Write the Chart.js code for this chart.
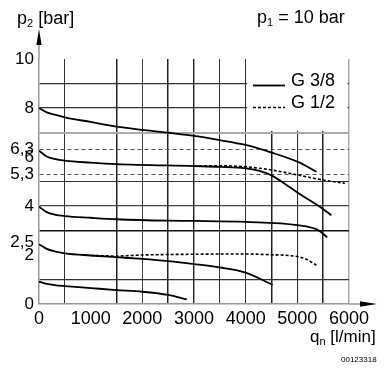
<!DOCTYPE html>
<html><head><meta charset="utf-8">
<script src="https://cdn.jsdelivr.net/npm/chart.js@4/dist/chart.umd.min.js"></script>
<style>
html,body{margin:0;padding:0;background:#fff;}
#wrap{position:relative;width:384px;height:371px;font-family:"Liberation Sans",Arial,sans-serif;color:#000;overflow:hidden;}
#c{position:absolute;left:0;top:0;width:384px;height:371px;}
.t{position:absolute;white-space:nowrap;font-size:18px;line-height:18px;}
.t sub{font-size:11px;vertical-align:-3px;line-height:0;}
.s{position:absolute;white-space:nowrap;font-size:8px;line-height:8px;}
</style></head><body>
<div id="wrap">
<canvas id="c" width="384" height="371"></canvas>
<div class="t" style="left:17px;top:9px">p<sub>2</sub> [bar]</div>
<div class="t" style="left:257px;top:8px">p<sub>1</sub> = 10 bar</div>
<div class="t" style="left:310px;top:328px;font-size:17px">q<sub>n</sub> [l/min]</div>
<div class="s" style="left:341px;top:356px">00123318</div>
<div class="t" style="left:291px;top:71px">G 3/8</div>
<div class="t" style="left:291px;top:93px">G 1/2</div>
</div>
<script>
// ---- data (flow q in l/min, outlet pressure p2 in bar) ----
const xTicks = [0,500,1000,1500,2000,2500,3000,3500,4000,4500,5000,5500,6000];
const yTicks = [0,1,2,2.5,3,4,5,5.3,6,6.3,7,8,9,10];
const yLabels = {0:'0',2:'2',2.5:'2,5',4:'4',5.3:'5,3',6:'6',6.3:'6,3',8:'8',10:'10'};

const qA = [0,150,300,500,1000,1500,2500,3000,3500,4000,4500,5000,5370];
const pA = [8.0,7.82,7.73,7.62,7.43,7.24,6.99,6.86,6.69,6.49,6.18,5.81,5.4];

const qB = [0,150,300,500,1000,1500,3000,3500,4000,4250,4500,4750,5000,5470,5660];
const pB = [6.26,6.02,5.92,5.85,5.77,5.71,5.63,5.6,5.54,5.44,5.25,4.92,4.55,3.92,3.62];

const qBd = [3000,3500,4000,4500,5000,5500,5920];
const pBd = [5.63,5.64,5.6,5.47,5.27,5.06,4.93];

const qC = [0,150,300,500,1000,1500,2500,3000,4000,5000,5400,5580];
const pC = [3.97,3.75,3.65,3.59,3.52,3.46,3.40,3.39,3.35,3.22,3.02,2.72];

const qD = [0,150,300,500,1000,1500,2000,2500,3000,3500,4000,4520];
const pD = [2.44,2.25,2.15,2.07,1.98,1.91,1.84,1.75,1.63,1.49,1.28,0.78];

const qDd = [1000,1500,2000,2500,3000,3500,4000,4500,4880,5140,5370];
const pDd = [1.98,1.96,2.0,2.02,2.03,2.04,2.04,2.01,1.97,1.86,1.58];

const qE = [0,150,300,500,1000,1500,2000,2500,2860];
const pE = [0.91,0.82,0.77,0.73,0.65,0.57,0.5,0.37,0.19];

const pts = (q,p) => q.map((v,i)=>({x:v,y:p[i]}));

const solid = (label,q,p) => ({label, data:pts(q,p), borderColor:'#000', borderWidth:1.8,
  pointRadius:0, fill:false, cubicInterpolationMode:'monotone'});
const dotted = (label,q,p) => ({label, data:pts(q,p), borderColor:'#000', borderWidth:1.6,
  borderDash:[3,2], pointRadius:0, fill:false, cubicInterpolationMode:'monotone'});

const hGrid = {1:['#333',1.2],3:['#111',1.5],4:['#444',1.2],5:['#333',1],5.3:['#555',1],6.3:['#555',1],7:['#aaa',2],8:['#333',1.2],9:['#333',1.2]};
const vGrid = {500:['#333',1],1500:['#222',1.5],2000:['#444',1],2500:['#222',1.5],3000:['#222',1.4],3500:['#333',1],4000:['#333',1],4500:['#222',1.5],5000:['#333',1.1],5500:['#222',1.5],6000:['#aaa',1.5]};

const deco = {
  id:'deco',
  beforeDatasetsDraw(chart){
    const {ctx, scales:{x,y}} = chart;
    const l = x.getPixelForValue(4000)+1.5, r = x.getPixelForValue(6000)-1.5;
    const t = y.getPixelForValue(10), b = y.getPixelForValue(7)-1.5;
    ctx.save(); ctx.fillStyle='#fff'; ctx.fillRect(l,t,r-l,b-t); ctx.restore();
  },
  afterDraw(chart){
    const {ctx, scales:{x,y}} = chart;
    const x0 = x.getPixelForValue(0), y0 = y.getPixelForValue(0);
    ctx.save();
    ctx.strokeStyle='#999'; ctx.lineWidth=1.5;
    ctx.beginPath(); ctx.moveTo(x0, y.top); ctx.lineTo(x0, 44); ctx.stroke();
    ctx.beginPath(); ctx.moveTo(x.right, y0); ctx.lineTo(361, y0); ctx.stroke();
    ctx.fillStyle='#000';
    ctx.beginPath(); ctx.moveTo(x0,29); ctx.lineTo(x0-2.6,45); ctx.lineTo(x0+2.6,45); ctx.closePath(); ctx.fill();
    ctx.beginPath(); ctx.moveTo(377,y0); ctx.lineTo(360,y0-2.8); ctx.lineTo(360,y0+2.8); ctx.closePath(); ctx.fill();
    // legend samples
    ctx.strokeStyle='#000'; ctx.lineWidth=1.8;
    ctx.beginPath(); ctx.moveTo(253,85.5); ctx.lineTo(285,85.5); ctx.stroke();
    ctx.lineWidth=1.4; ctx.setLineDash([3,2]);
    ctx.beginPath(); ctx.moveTo(253,107.5); ctx.lineTo(285,107.5); ctx.stroke();
    ctx.restore();
  }
};

new Chart(document.getElementById('c'), {
  type:'line',
  data:{datasets:[
    solid('G 3/8 a',qA,pA), solid('G 3/8 b',qB,pB), dotted('G 1/2 b',qBd,pBd),
    solid('G 3/8 c',qC,pC), solid('G 3/8 d',qD,pD), dotted('G 1/2 d',qDd,pDd),
    solid('G 3/8 e',qE,pE)
  ]},
  options:{
    responsive:false, animation:false, devicePixelRatio:1,
    layout:{padding:{left:0,top:59,right:35,bottom:0}},
    plugins:{legend:{display:false}, tooltip:{enabled:false}},
    scales:{
      x:{type:'linear', min:0, max:6000,
        afterBuildTicks(s){ s.ticks = xTicks.map(v=>({value:v})); },
        afterFit(s){ s.height = 67; },
        ticks:{autoSkip:false, maxRotation:0, padding:4, color:'#000',
          font:{family:'"Liberation Sans", Arial, sans-serif', size:18},
          callback:v => (v % 1000 === 0 ? String(v) : '')},
        grid:{drawTicks:false,
          color:c => (c.tick && vGrid[c.tick.value]) ? vGrid[c.tick.value][0] : 'rgba(0,0,0,0)',
          lineWidth:c => (c.tick && vGrid[c.tick.value]) ? vGrid[c.tick.value][1] : 0},
        border:{display:true, color:'#999', width:1.5}
      },
      y:{type:'linear', min:0, max:10,
        afterBuildTicks(s){ s.ticks = yTicks.map(v=>({value:v})); },
        afterFit(s){ s.width = 39; },
        ticks:{autoSkip:false, padding:5, color:'#000',
          font:{family:'"Liberation Sans", Arial, sans-serif', size:17},
          callback:v => (yLabels[v] !== undefined ? yLabels[v] : '')},
        grid:{drawTicks:false,
          color:c => (c.tick && hGrid[c.tick.value]) ? hGrid[c.tick.value][0] : 'rgba(0,0,0,0)',
          lineWidth:c => (c.tick && hGrid[c.tick.value]) ? hGrid[c.tick.value][1] : 0},
        border:{display:true, color:'#999', width:1.5,
          dash:c => (c.tick && (c.tick.value===5.3 || c.tick.value===6.3)) ? [4,3] : []}
      }
    }
  },
  plugins:[deco]
});
</script>
</body></html>
